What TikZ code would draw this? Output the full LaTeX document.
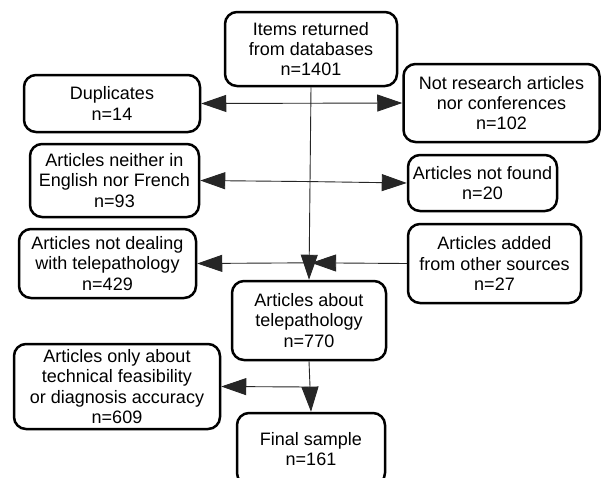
\documentclass[tikz,border=0pt]{standalone}
\usepackage{fontspec}
\setmainfont{Liberation Sans}
\usetikzlibrary{arrows.meta,calc}
\begin{document}
\begin{tikzpicture}[x=1pt,y=-1pt,
  box/.style={draw=black, line width=2.5pt, rounded corners=12pt, align=center,
    inner sep=0pt, font=\fontsize{18}{20.3}\selectfont, text=black},
  conn/.style={draw=black!85, line width=0.9pt},
  tip/.style={-{Triangle[length=25pt,width=17pt]}}]
\useasboundingbox (0,0) rectangle (602,477);
\fill[white] (0,0) rectangle (602,477);

\node[box, minimum width=172pt, minimum height=74pt] (items) at (311,49) {Items returned\\from databases\\n=1401};
\node[box, minimum width=176pt, minimum height=57pt] (dup) at (112,103.5) {Duplicates\\n=14};
\node[box, minimum width=196pt, minimum height=78pt] (notres) at (501.5,103) {Not research articles\\nor conferences\\n=102};
\node[box, minimum width=169pt, minimum height=73pt] (neither) at (114.5,180.5) {Articles neither in\\English nor French\\n=93};
\node[box, minimum width=149pt, minimum height=56pt] (notfound) at (482.5,183) {Articles not found\\n=20};
\node[box, minimum width=177pt, minimum height=69pt] (notdeal) at (107.5,263.5) {Articles not dealing\\with telepathology\\n=429};
\node[box, minimum width=173pt, minimum height=79pt] (added) at (494.5,263.5) {Articles added\\from other sources\\n=27};
\node[box, minimum width=154pt, minimum height=79pt] (about) at (309,320.5) {Articles about\\telepathology\\n=770};
\node[box, minimum width=206pt, minimum height=85pt] (only) at (117,386.5) {Articles only about\\technical feasibility\\or diagnosis accuracy\\n=609};
\node[box, minimum width=148pt, minimum height=72pt] (final) at (311,449) {Final sample\\n=161};

\coordinate (j1) at ($(items.south)!0.083!(about.north)$);
\coordinate (j2) at ($(items.south)!0.49!(about.north)$);
\coordinate (j3) at ($(items.south)!0.912!(about.north)$);
\coordinate (j4) at ($(about.south)!0.51!(final.north)$);

\draw[conn, tip] (items.south) -- (about.north);
\draw[conn, tip] (j1) -- (dup.east);
\draw[conn, tip] (j1) -- (notres.west);
\draw[conn, tip] (j2) -- (neither.east);
\draw[conn, tip] (j2) -- (notfound.west);
\draw[conn, tip] (j3) -- (notdeal.east);
\draw[conn, tip] (added.west) -- ([xshift=2pt]j3);
\draw[conn, tip] (about.south) -- (final.north);
\draw[conn, tip] (j4) -- (only.east);
\end{tikzpicture}
\end{document}
